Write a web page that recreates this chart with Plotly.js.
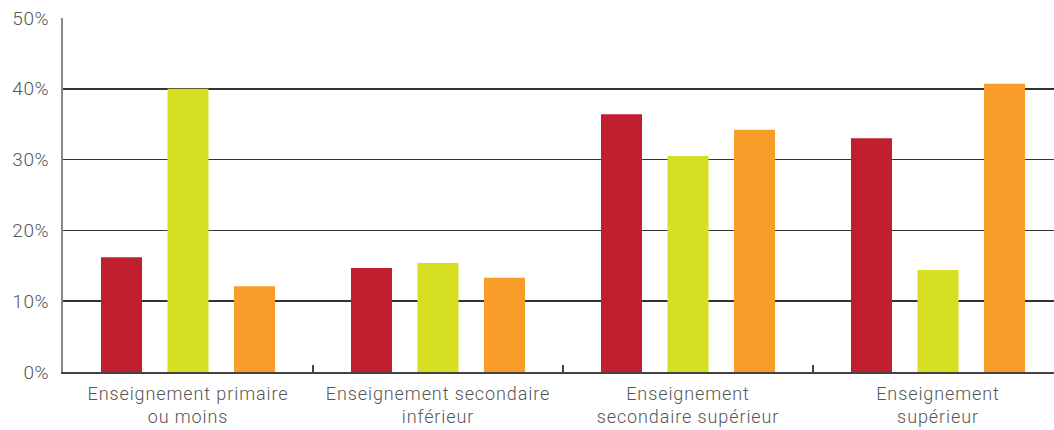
<!DOCTYPE html>
<html>
<head>
<meta charset="utf-8">
<script src="https://cdn.plot.ly/plotly-3.0.1.min.js"></script>
<style>
html,body{margin:0;padding:0;background:#fff;}
#chart{width:1054px;height:430px;}
#chart .xtick text{letter-spacing:0.9px;}
#chart .ytick text{letter-spacing:0.6px;}
</style>
</head>
<body>
<div id="chart"></div>
<script>
var categories = ["Enseignement primaire<br>ou moins", "Enseignement secondaire<br>inférieur", "Enseignement<br>secondaire supérieur", "Enseignement<br>supérieur"];
var seriesA = [16.2, 14.7, 36.4, 33.0];
var seriesB = [40.0, 15.4, 30.5, 14.4];
var seriesC = [12.1, 13.3, 34.2, 40.7];
var yTickVals = [0, 10, 20, 30, 40, 50];
var yTickText = ["0%", "10%", "20%", "30%", "40%", "50%"];

var colors = ["#C01F30", "#D7DF23", "#F99D2A"];
var traces = [seriesA, seriesB, seriesC].map(function (vals, i) {
  return {type: "bar", x: categories, y: vals, marker: {color: colors[i]}, hoverinfo: "none"};
});

var layout = {
  width: 1054, height: 430,
  margin: {l: 63, r: 0, t: 18, b: 58},
  paper_bgcolor: "#fff", plot_bgcolor: "#fff",
  showlegend: false,
  barmode: "group",
  bargap: 0.202,
  bargroupgap: 0.383,
  font: {family: "Roboto, 'DejaVu Sans', sans-serif", color: "#555", size: 18, weight: 300},
  xaxis: {
    type: "category",
    range: [-0.5, 3.464],
    tickson: "boundaries",
    ticks: "inside", ticklen: 7, tickwidth: 1.5, tickcolor: "#444",
    showline: true, linecolor: "#444", linewidth: 2,
    showgrid: false, zeroline: false,
    ticklabelstandoff: 4,
    tickfont: {size: 18, color: "#555", weight: 300}
  },
  yaxis: {
    range: [0, 50],
    tickvals: yTickVals, ticktext: yTickText,
    showgrid: true, gridcolor: "#333", gridwidth: 1.5,
    zeroline: false,
    showline: true, linecolor: "#888", linewidth: 2,
    ticks: "", ticklabelstandoff: 8,
    tickfont: {size: 19, color: "#555", weight: 300}
  }
};

Plotly.newPlot("chart", traces, layout, {staticPlot: true, displayModeBar: false});
</script>
</body>
</html>
